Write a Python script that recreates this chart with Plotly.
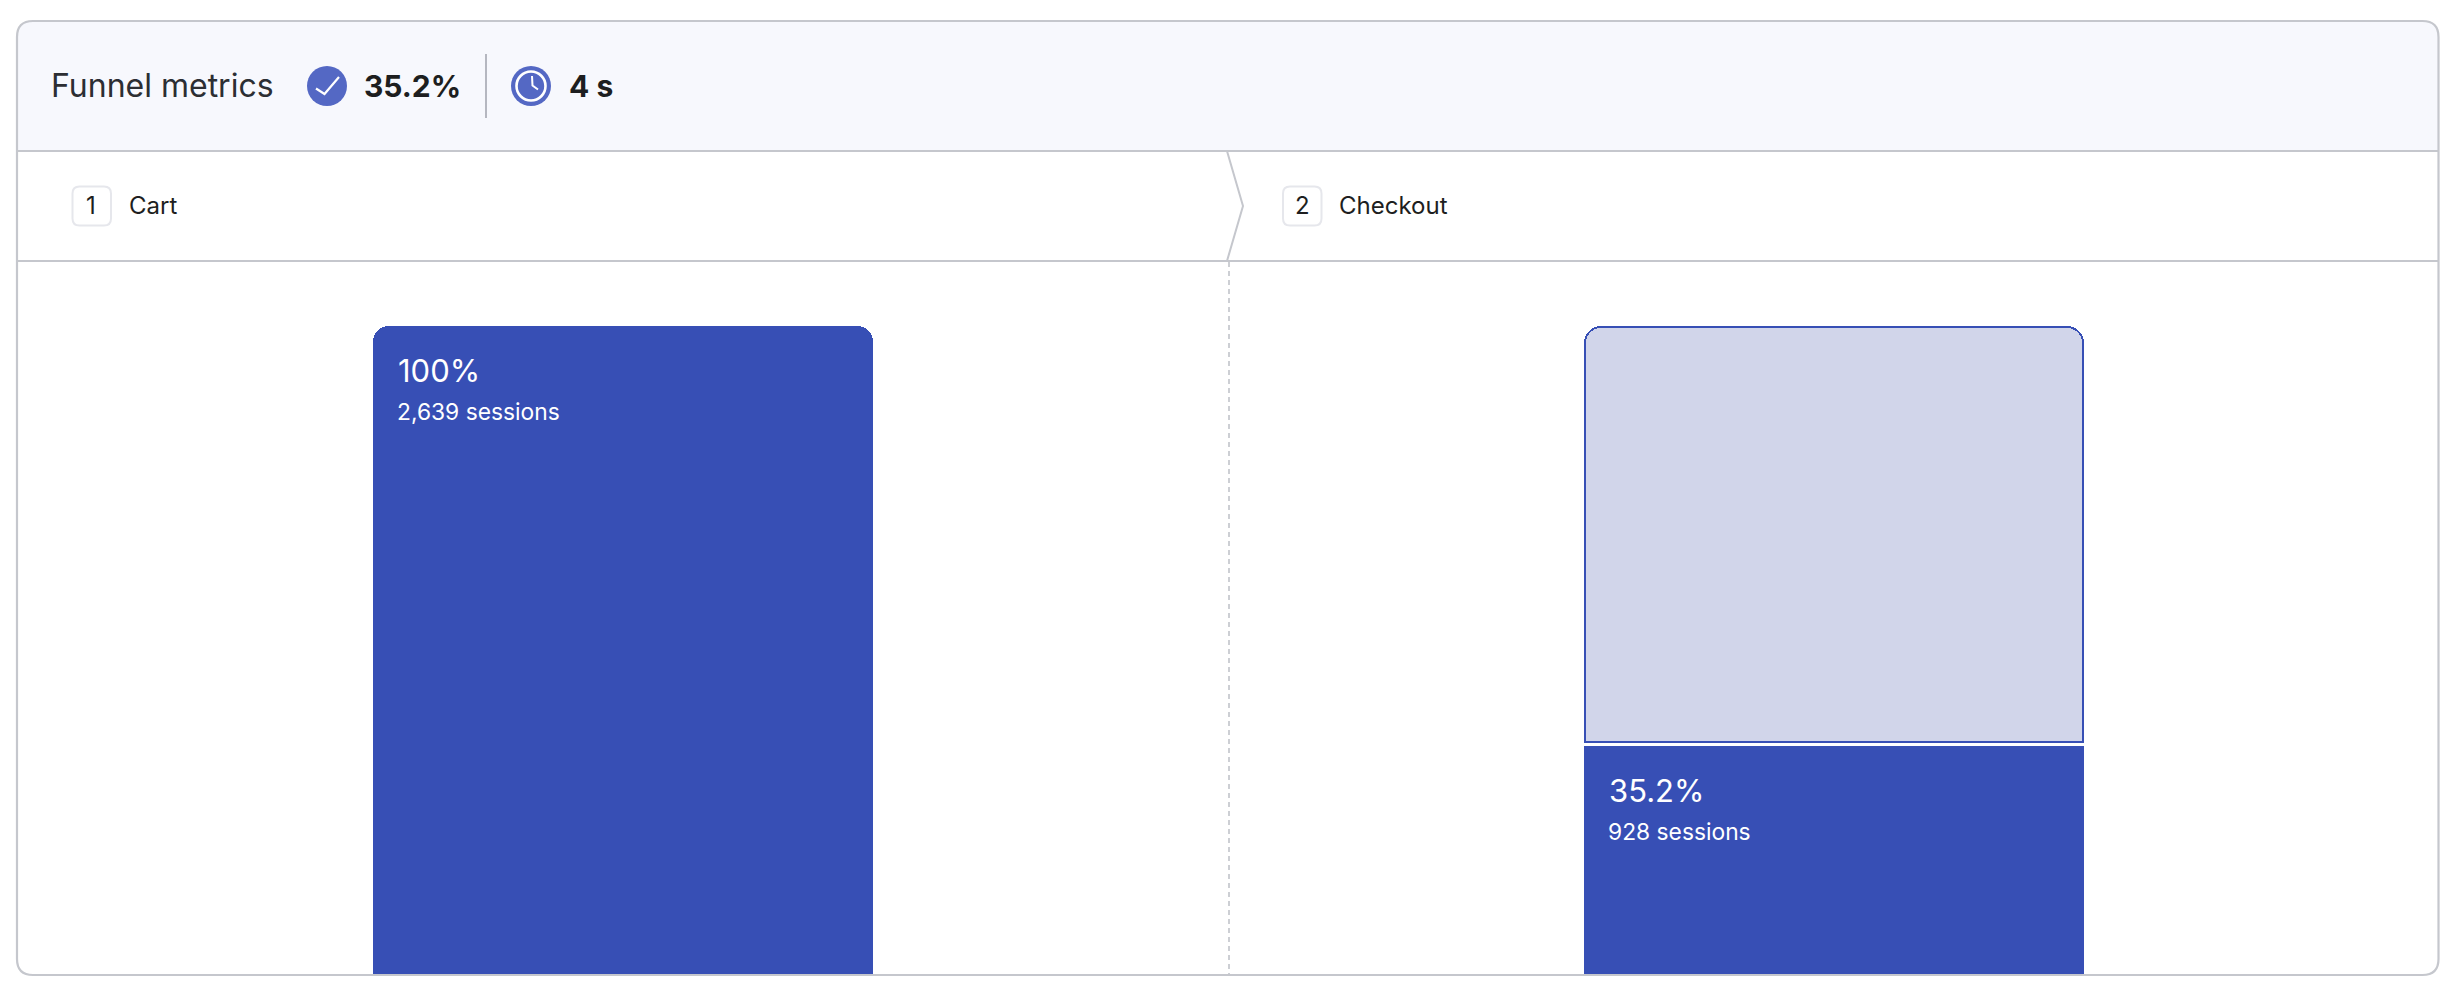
import plotly.graph_objects as go

# Data
steps = ["Cart", "Checkout"]
step_numbers = ["1", "2"]
sessions = [2639, 928]
percents = ["100%", "35.2%"]
header_title = "Funnel metrics"
conversion = "35.2%"
duration = "4 s"

W, H = 2450, 998
BLUE = "#374fb5"
LIGHT = "#d1d5ea"
BORDER = "#c5c7cd"
ICON = "#5468c4"
INK = "#1d1e20"
FONT = "Inter"


def px(x):
    return x / W


def py(y):
    return 1 - y / H


def P(x, y):
    return f"{px(x):.6f},{py(y):.6f}"


def rpath(x0, y0, x1, y1, r_top, r_bot):
    s = f"M{P(x0 + r_top, y0)} L{P(x1 - r_top, y0)} Q{P(x1, y0)} {P(x1, y0 + r_top)} "
    s += f"L{P(x1, y1 - r_bot)} "
    if r_bot:
        s += f"Q{P(x1, y1)} {P(x1 - r_bot, y1)} "
    s += f"L{P(x0 + r_bot, y1)} "
    if r_bot:
        s += f"Q{P(x0, y1)} {P(x0, y1 - r_bot)} "
    s += f"L{P(x0, y0 + r_top)} Q{P(x0, y0)} {P(x0 + r_top, y0)} Z"
    return s


def line(x0, y0, x1, y1, color=BORDER, width=2, dash=None, layer="below"):
    return dict(type="line", xref="paper", yref="paper", x0=px(x0), x1=px(x1), y0=py(y0), y1=py(y1),
                line=dict(color=color, width=width, dash=dash), layer=layer)


def path(d, color, width=2, fill=None, layer="above"):
    return dict(type="path", xref="paper", yref="paper", path=d, layer=layer,
                line=dict(color=color, width=width), fillcolor=fill or "rgba(0,0,0,0)")


def circle(cx, cy, r, fill, lc=None, lw=0):
    return dict(type="circle", xref="paper", yref="paper", x0=px(cx - r), x1=px(cx + r),
                y0=py(cy + r), y1=py(cy - r), fillcolor=fill,
                line=dict(color=lc or fill, width=lw), layer="above")


def text(x, y, s, size, color=INK, weight=400, anchor="left"):
    return dict(xref="paper", yref="paper", x=px(x), y=py(y), text=s, showarrow=False,
                xanchor=anchor, yanchor="middle", xshift=0,
                font=dict(family=FONT, size=size, color=color, weight=weight))


CARD = (17, 21, 2438.5, 975)
shapes = [
    path(rpath(CARD[0], CARD[1], CARD[2], 151, 16, 0), "rgba(0,0,0,0)", 0, "#f7f8fd", "below"),
    line(17, 151, 2438, 151),
    line(17, 261, 2438, 261),
    path(f"M{P(1227, 151)} L{P(1243, 206)} L{P(1227, 261)}", BORDER, 2, None, "below"),
    line(1229, 262, 1229, 975, dash="5px,4px", width=1.7),
    # header icons
    circle(327, 86, 20, ICON),
    path(f"M{P(316, 88.5)} L{P(324.5, 94)} L{P(339, 77)}", "white", 2.2),
    line(486, 54, 486, 118, color="#b5b7c0", width=2, layer="above"),
    circle(531, 86, 20, ICON),
    circle(531, 86, 14.5, ICON, "white", 2.6),
    path(f"M{P(532, 76)} L{P(532.5, 85.5)} L{P(538, 89.5)}", "white", 2),
    # step badges
    path(rpath(72.5, 186.5, 111, 225.5, 7, 7), "#e6e7ec", 2, "white"),
    path(rpath(1283, 186.5, 1321.5, 225.5, 7, 7), "#e6e7ec", 2, "white"),
    # card outline
    path(rpath(*CARD, 16, 16), BORDER, 2.2),
]

annotations = [
    text(48.5, 85, header_title, 32, "#2c2e33", 400),
    text(361.5, 86, conversion, 30, INK, 700),
    text(566.5, 86, duration, 30, INK, 700),
    text(91.5, 206, step_numbers[0], 24, INK, 400, "center"),
    text(126.5, 206, steps[0], 24),
    text(1302, 206, step_numbers[1], 24, INK, 400, "center"),
    text(1336.5, 206, steps[1], 24),
]

BAR_W = 0.413
OUTLINE_W = BAR_W - 2 / 1211   # outlined bar keeps the same outer width
GAP = 15                       # white gap above the converted bar, in sessions
STROKE = 4                     # half of the outline, in sessions

fig = go.Figure()
# Converted sessions
fig.add_trace(go.Bar(x=[steps[0]], y=[sessions[0]], width=BAR_W,
                     marker=dict(color=BLUE, line=dict(width=0), cornerradius=16), hoverinfo="skip"))
fig.add_trace(go.Bar(x=[steps[1]], y=[sessions[1]], width=BAR_W,
                     marker=dict(color=BLUE, line=dict(width=0)), hoverinfo="skip"))
# Invisible gap, then the dropped part of step 2 up to the step-1 count
fig.add_trace(go.Bar(x=[steps[1]], y=[GAP], width=BAR_W,
                     marker=dict(color="rgba(0,0,0,0)", line=dict(width=0)), hoverinfo="skip"))
fig.add_trace(go.Bar(x=[steps[1]], y=[sessions[0] - sessions[1] - GAP - STROKE], width=OUTLINE_W,
                     marker=dict(color=LIGHT, line=dict(color=BLUE, width=2), cornerradius=18),
                     hoverinfo="skip"))

for step, n, pct in zip(steps, sessions, percents):
    annotations.append(dict(xref="x", yref="y", x=step, y=n, xshift=-227.5, yshift=-44,
                            text=pct, showarrow=False, xanchor="left", yanchor="middle",
                            font=dict(family=FONT, size=31, color="white")))
    annotations.append(dict(xref="x", yref="y", x=step, y=n, xshift=-228, yshift=-85.5,
                            text=f"{n:,} sessions", showarrow=False, xanchor="left", yanchor="middle",
                            font=dict(family=FONT, size=22.8, color="white")))

fig.update_layout(
    width=W, height=H, margin=dict(l=0, r=0, t=0, b=0),
    paper_bgcolor="white", plot_bgcolor="rgba(0,0,0,0)",
    barmode="stack", showlegend=False, shapes=shapes, annotations=annotations,
    xaxis=dict(domain=[px(17.5), px(2439.5)], type="category", range=[-0.5, 1.5], visible=False,
               categoryorder="array", categoryarray=steps),
    yaxis=dict(domain=[py(974), py(262)], range=[0, 2900], visible=False),
    font=dict(family=FONT),
)
fig.write_html("out.html", config=dict(displayModeBar=False),
               post_script="document.body.style.margin='0';document.body.style.overflow='hidden';")
